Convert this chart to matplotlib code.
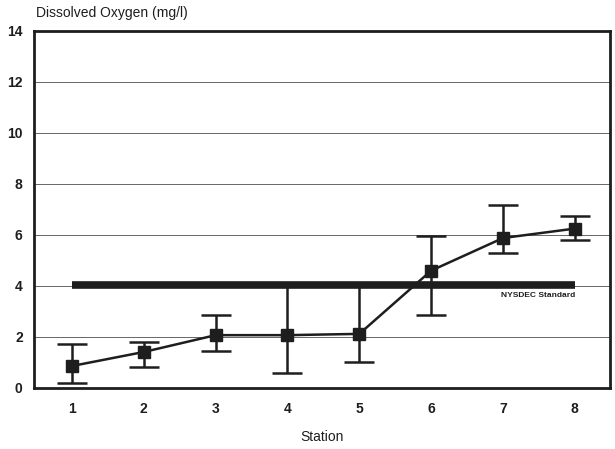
import matplotlib
matplotlib.use('Agg')
import matplotlib.pyplot as plt

plt.rcParams['font.family'] = ['Liberation Sans', 'DejaVu Sans']

# Dissolved oxygen by station (mean with min/max range)
stations = [1, 2, 3, 4, 5, 6, 7, 8]
do_mean = [0.86, 1.41, 2.07, 2.07, 2.12, 4.6, 5.88, 6.25]
do_high = [1.73, 1.8, 2.85, 4.05, 4.0, 5.96, 7.18, 6.75]
do_low = [0.2, 0.82, 1.45, 0.6, 1.0, 2.86, 5.3, 5.8]
standard = 4.02
y_ticks = [0, 2, 4, 6, 8, 10, 12, 14]

ink = '#1e1e1e'

fig = plt.figure(figsize=(6.15, 4.49), dpi=100)
ax = fig.add_axes([0.055, 0.136, 0.937, 0.795])

err_low = [m - l for m, l in zip(do_mean, do_low)]
err_high = [h - m for m, h in zip(do_mean, do_high)]

for y in y_ticks[1:-1]:
    ax.axhline(y, color='#666666', lw=0.7, zorder=0)

ax.plot([stations[0], stations[-1]], [standard, standard], color=ink,
        lw=5.5, solid_capstyle='butt', zorder=2)
ax.text(stations[-1], standard - 0.25, 'NYSDEC Standard', ha='right', va='top',
        fontsize=6, fontweight='bold', color=ink)

ax.errorbar(stations, do_mean, yerr=[err_low, err_high], color=ink, lw=1.8,
            elinewidth=1.8, capsize=11, capthick=1.8, marker='s',
            markersize=8, zorder=3)

ax.set_xlim(0.47, 8.49)
ax.set_ylim(0, 14)
ax.set_xticks(stations)
ax.set_yticks(y_ticks)
ax.tick_params(length=0, labelsize=10, colors=ink, pad=10)
for lab in ax.get_xticklabels() + ax.get_yticklabels():
    lab.set_fontweight('bold')
ax.tick_params(axis='y', pad=8)

for s in ax.spines.values():
    s.set_linewidth(2)
    s.set_color(ink)

fig.text(0.059, 0.972, 'Dissolved Oxygen (mg/l)', fontsize=10, color=ink,
         ha='left', va='center')
ax.set_xlabel('Station', fontsize=10, color=ink, labelpad=10)

fig.savefig('out.png', dpi=100)
